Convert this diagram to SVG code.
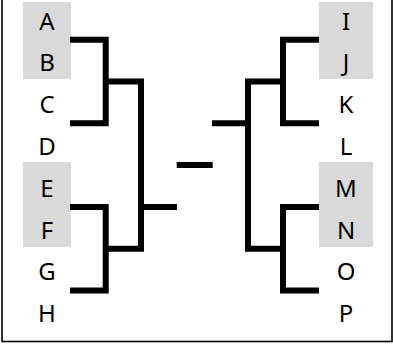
<svg xmlns="http://www.w3.org/2000/svg" width="393" height="344" viewBox="0 0 393 344">
<style>
.lbl{font-family:"Noto Sans","Open Sans",sans-serif;font-size:24px;fill:#000;text-anchor:middle}
.box{fill:#d9d9d9}
.ln{fill:none;stroke:#000;stroke-width:6;stroke-linejoin:miter;stroke-linecap:butt}
</style>
<rect x="2" y="-2" width="390" height="343.5" fill="#fff" stroke="#000" stroke-width="1.6"/>
<g id="highlights">
<rect class="box" x="23" y="2" width="48" height="77"/>
<rect class="box" x="23" y="162" width="48" height="85"/>
<rect class="box" x="319" y="2" width="54" height="77"/>
<rect class="box" x="319" y="162" width="54" height="85"/>
</g>
<g id="connectors">
<path class="ln" d="M70 39.7H105.7V123.3H70"/>
<path class="ln" d="M70 206.9H105.7V290.5H70"/>
<path class="ln" d="M105.7 81.5H141V248.7H105.7"/>
<path class="ln" d="M141 206.9H177"/>
<path class="ln" d="M176.7 165.1H212.7"/>
<path class="ln" d="M212 123.3H248"/>
<path class="ln" d="M319 39.7H283V123.3H319"/>
<path class="ln" d="M319 206.9H283V290.5H319"/>
<path class="ln" d="M283 81.5H248V248.7H283"/>
</g>
<g id="nA"><text class="lbl" x="47" y="29.5">A</text></g>
<g id="nB"><text class="lbl" x="47" y="71.3">B</text></g>
<g id="nC"><text class="lbl" x="47" y="113.1">C</text></g>
<g id="nD"><text class="lbl" x="47" y="154.9">D</text></g>
<g id="nE"><text class="lbl" x="47" y="196.7">E</text></g>
<g id="nF"><text class="lbl" x="47" y="238.5">F</text></g>
<g id="nG"><text class="lbl" x="47" y="280.3">G</text></g>
<g id="nH"><text class="lbl" x="47" y="322.1">H</text></g>
<g id="nI"><text class="lbl" x="346" y="29.5">I</text></g>
<g id="nJ"><text class="lbl" x="346" y="71.3">J</text></g>
<g id="nK"><text class="lbl" x="346" y="113.1">K</text></g>
<g id="nL"><text class="lbl" x="346" y="154.9">L</text></g>
<g id="nM"><text class="lbl" x="346" y="196.7">M</text></g>
<g id="nN"><text class="lbl" x="346" y="238.5">N</text></g>
<g id="nO"><text class="lbl" x="346" y="280.3">O</text></g>
<g id="nP"><text class="lbl" x="346" y="322.1">P</text></g>
</svg>
